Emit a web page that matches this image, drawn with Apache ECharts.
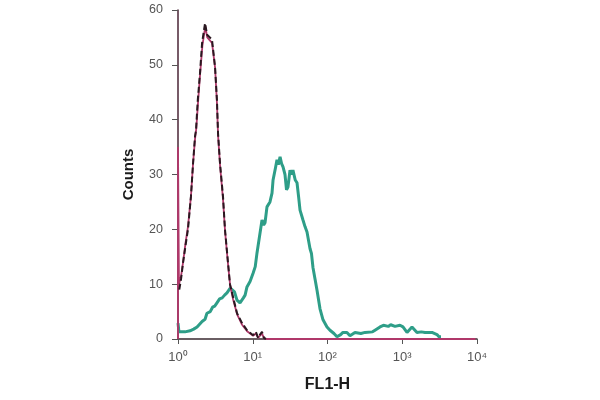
<!DOCTYPE html>
<html><head><meta charset="utf-8">
<script src="https://cdn.jsdelivr.net/npm/echarts@6/dist/echarts.min.js"></script>
<style>html,body{margin:0;padding:0;background:#fff}#c{width:600px;height:400px}</style>
</head><body><div id="c"></div>
<script>
// Tick labels
const yTicks = [0, 10, 20, 30, 40, 50, 60];
const xTickLabels = {1: '10\u2070', 10: '10\u00B9', 100: '10\u00B2', 1000: '10\u00B3', 10000: '10\u2074'};

// Black dashed histogram (FL1-H value, count)
const blackX = [1.04,1.10,1.17,1.26,1.36,1.49,1.59,1.69,1.74,1.84,1.97,2.10,2.30,2.45,2.85,3.13,3.32,3.43,3.65,4.0,4.25,4.66,4.96,5.44,6.16,7.19,8.39,10.1,11.0,11.8,12.5,13.3,14.1,15];
const blackY = [9,11,14,17,20,26,32,37,38,43.6,48.5,54,57.6,55.5,54.6,49.6,43.6,37.6,32,26,20,14,10,7.7,4.7,2.9,1.6,0.7,1.3,0.2,0.8,1.3,0.2,0];

// Pink solid histogram
const pinkX = [1,1,1.03,1.10,1.17,1.26,1.36,1.49,1.59,1.69,1.76,1.85,1.98,2.12,2.32,2.46,2.85,3.13,3.32,3.44,3.66,4.0,4.27,4.68,4.98,5.46,6.18,7.2,8.4,10.1,11.0,11.8,12.5,13.3,14.1,15,9500];
const pinkY = [0,35,10,11.5,14,17.5,20.5,26,32,36.5,38.5,43,48.5,53.5,57,55,54,49.6,43,37,31.5,25.5,19.5,13.5,9.8,7.2,4.5,2.6,1.4,0.6,1.0,0.2,0.6,1.0,0.2,0,0];

// Green solid histogram
const greenX = [1.0,1.03,1.24,1.45,1.62,1.80,2.1,2.3,2.44,2.7,2.9,3.1,3.32,3.6,3.9,4.2,4.52,5.0,5.28,5.7,6.15,6.75,7.5,7.9,8.37,9.2,10.1,10.8,11.4,12.5,13.3,14.0,14.6,15.5,17.0,18.1,18.7,20,21.1,22.0,23.2,24.3,25.4,27.0,28.3,29.6,31.5,33.0,34.5,37,39.1,41.0,42.9,47.0,50.0,53.2,58.3,61.0,64.0,68.0,72.4,79.4,87.1,98.5,108,122,134,150,161,182,200,233,280,318,400,432,504,560,650,700,800,933,1023,1158,1350,1574,1800,2015,2500,2917,3100,3300];
const greenY = [2.9,1.3,1.3,1.5,1.8,2.2,3.2,3.6,4.7,5.0,5.8,6.0,6.6,7.3,7.5,8.0,8.4,9.3,9.5,8.6,7.1,6.6,7.5,8.0,9.5,10.5,12,13.2,15.7,19.3,21.7,20.8,21.2,24.1,25,26.6,29,31,32.7,31.8,33.2,32.0,31.4,30,27.2,27.7,30.8,30.0,30.8,29,28.5,26.0,23.5,21.7,20.5,19.5,16.5,15.6,13,11.0,8.9,5.5,3.5,2.2,1.6,1.0,0.4,0.8,1.2,1.2,0.6,1.2,1.0,1.2,1.3,1.6,2.2,2.5,2.3,2.6,2.3,2.5,2.2,1.2,2.2,1.2,1.3,1.2,1.2,0.8,0.4,0.4];

const zip = (xs, ys) => xs.map((x, i) => [x, ys[i]]);

const chart = echarts.init(document.getElementById('c'), null, {renderer: 'canvas'});
chart.setOption({
  animation: false,
  backgroundColor: '#ffffff',
  grid: {left: 178, right: 123, top: 10, bottom: 61, containLabel: false},
  xAxis: {
    type: 'log', logBase: 10, min: 1, max: 10000,
    name: 'FL1-H', nameLocation: 'middle', nameGap: 38,
    nameTextStyle: {fontFamily: 'Liberation Sans', fontWeight: 'bold', fontSize: 16, color: '#1a1a1a'},
    axisLine: {lineStyle: {color: '#3a2a30', width: 1.5}},
    axisTick: {show: true, length: 5, lineStyle: {color: '#555'}},
    minorTick: {show: false},
    splitLine: {show: false},
    axisLabel: {fontFamily: 'Liberation Sans', fontSize: 13, color: '#555', margin: 12,
      formatter: v => xTickLabels[Math.round(v)] || ''}
  },
  yAxis: {
    type: 'value', min: yTicks[0], max: yTicks[yTicks.length - 1], interval: 10,
    name: 'Counts', nameLocation: 'middle', nameGap: 42, nameRotate: 90,
    nameTextStyle: {fontFamily: 'Liberation Sans', fontWeight: 'bold', fontSize: 15, color: '#1a1a1a'},
    axisLine: {show: true, lineStyle: {color: '#4a2436', width: 1.5}},
    axisTick: {show: true, length: 6, lineStyle: {color: '#555'}},
    splitLine: {show: false},
    axisLabel: {fontFamily: 'Liberation Sans', fontSize: 12.5, color: '#555', margin: 15}
  },
  series: [
    {type: 'line', name: 'green', data: zip(greenX, greenY), showSymbol: false, smooth: false,
      lineStyle: {color: '#2e9e88', width: 3}, z: 2},
    {type: 'line', name: 'pink', data: zip(pinkX, pinkY), showSymbol: false,
      lineStyle: {color: '#b0386a', width: 1.8}, z: 3},
    {type: 'line', name: 'black', data: zip(blackX, blackY), showSymbol: false,
      lineStyle: {color: '#2a1820', width: 2, type: [6, 3]}, z: 4}
  ]
});
</script></body></html>
